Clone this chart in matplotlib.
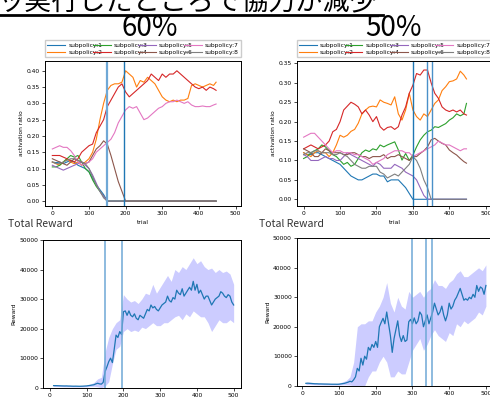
import matplotlib.pyplot as plt
import numpy as np

# ---- data ----
trials = list(range(0, 450, 10)) + [447]   # 0..440 step 10, last 447

labels = ['subpolicy:%d' % i for i in range(1, 9)]
colors = ['tab:blue', 'tab:orange', 'tab:green', 'tab:red',
          'tab:purple', 'tab:brown', 'tab:pink', 'tab:gray']

# 60% run
r60_sp1 = [0.12, 0.118, 0.12, 0.115, 0.12, 0.125, 0.12, 0.11, 0.105, 0.10, 0.09, 0.07, 0.05, 0.035, 0.02, 0.0] + [0.0] * 30
r60_sp2 = [0.12, 0.115, 0.11, 0.12, 0.13, 0.12, 0.115, 0.12, 0.11, 0.12, 0.13, 0.15, 0.19, 0.25, 0.30, 0.34,
           0.355, 0.36, 0.36, 0.365, 0.40, 0.39, 0.38, 0.35, 0.37, 0.365, 0.38, 0.37, 0.36, 0.34,
           0.32, 0.31, 0.305, 0.31, 0.305, 0.31, 0.31, 0.315, 0.355, 0.36, 0.355, 0.35, 0.355, 0.36, 0.355, 0.365]
r60_sp3 = [0.105, 0.105, 0.11, 0.12, 0.13, 0.14, 0.135, 0.14, 0.12, 0.10, 0.09, 0.065, 0.045, 0.03, 0.015, 0.0] + [0.0] * 30
r60_sp4 = [0.14, 0.14, 0.14, 0.135, 0.13, 0.125, 0.12, 0.13, 0.15, 0.16, 0.17, 0.175, 0.21, 0.23, 0.25, 0.29,
           0.31, 0.33, 0.35, 0.36, 0.335, 0.32, 0.33, 0.34, 0.35, 0.36, 0.37, 0.39, 0.38, 0.37,
           0.39, 0.38, 0.39, 0.39, 0.40, 0.39, 0.38, 0.37, 0.36, 0.35, 0.345, 0.35, 0.34, 0.35, 0.345, 0.34]
r60_sp5 = [0.11, 0.105, 0.10, 0.095, 0.10, 0.105, 0.11, 0.115, 0.12, 0.11, 0.10, 0.08, 0.055, 0.03, 0.015, 0.0] + [0.0] * 30
r60_sp6 = [0.13, 0.125, 0.12, 0.115, 0.11, 0.12, 0.13, 0.125, 0.12, 0.115, 0.12, 0.14, 0.16, 0.17, 0.185, 0.175,
           0.14, 0.10, 0.06, 0.03, 0.0] + [0.0] * 25
r60_sp7 = [0.16, 0.165, 0.17, 0.165, 0.165, 0.155, 0.14, 0.12, 0.11, 0.115, 0.12, 0.13, 0.15, 0.16, 0.17, 0.18,
           0.19, 0.21, 0.24, 0.26, 0.28, 0.29, 0.285, 0.29, 0.27, 0.25, 0.255, 0.265, 0.275, 0.285,
           0.29, 0.30, 0.305, 0.305, 0.31, 0.305, 0.30, 0.305, 0.295, 0.29, 0.29, 0.292, 0.29, 0.29, 0.295, 0.298]
r60_sp8 = [0.12, 0.115, 0.115, 0.12, 0.125, 0.13, 0.13, 0.125, 0.12, 0.115, 0.10, 0.075, 0.05, 0.03, 0.01, 0.0] + [0.0] * 30

# 50% run
r50_sp1 = [0.12, 0.115, 0.115, 0.12, 0.12, 0.115, 0.11, 0.105, 0.10, 0.095, 0.09, 0.08, 0.07, 0.06, 0.055, 0.05,
           0.05, 0.055, 0.06, 0.065, 0.065, 0.06, 0.06, 0.045, 0.05, 0.05, 0.05, 0.04, 0.03, 0.015, 0.0] + [0.0] * 15
r50_sp2 = [0.12, 0.115, 0.11, 0.12, 0.125, 0.12, 0.12, 0.11, 0.12, 0.14, 0.165, 0.16, 0.165, 0.175, 0.18, 0.196,
           0.22, 0.23, 0.238, 0.24, 0.238, 0.256, 0.25, 0.247, 0.243, 0.264, 0.22, 0.204, 0.23, 0.273,
           0.23, 0.213, 0.204, 0.22, 0.213, 0.23, 0.247, 0.256, 0.28, 0.29, 0.303, 0.305, 0.31, 0.33, 0.32, 0.31]
r50_sp3 = [0.105, 0.11, 0.12, 0.125, 0.13, 0.14, 0.135, 0.125, 0.115, 0.11, 0.10, 0.09, 0.095, 0.085, 0.09, 0.105,
           0.12, 0.127, 0.123, 0.13, 0.127, 0.14, 0.135, 0.14, 0.144, 0.148, 0.127, 0.101, 0.118, 0.10,
           0.114, 0.135, 0.153, 0.165, 0.174, 0.178, 0.187, 0.185, 0.19, 0.195, 0.204, 0.21, 0.22, 0.215, 0.22, 0.247]
r50_sp4 = [0.13, 0.135, 0.14, 0.135, 0.13, 0.135, 0.14, 0.15, 0.174, 0.18, 0.20, 0.23, 0.24, 0.25, 0.245, 0.238,
           0.22, 0.23, 0.217, 0.20, 0.213, 0.187, 0.178, 0.185, 0.187, 0.18, 0.187, 0.217, 0.238, 0.273,
           0.294, 0.324, 0.32, 0.333, 0.333, 0.30, 0.273, 0.26, 0.238, 0.23, 0.226, 0.23, 0.225, 0.23, 0.22, 0.217]
r50_sp5 = [0.115, 0.11, 0.10, 0.10, 0.10, 0.105, 0.11, 0.105, 0.105, 0.10, 0.10, 0.11, 0.12, 0.115, 0.11, 0.105,
           0.10, 0.095, 0.09, 0.085, 0.095, 0.09, 0.08, 0.08, 0.08, 0.09, 0.085, 0.08, 0.07, 0.065,
           0.06, 0.05, 0.03, 0.01, 0.0] + [0.0] * 11
r50_sp6 = [0.13, 0.125, 0.12, 0.11, 0.11, 0.12, 0.13, 0.125, 0.12, 0.12, 0.12, 0.115, 0.115, 0.12, 0.12, 0.115,
           0.11, 0.11, 0.105, 0.11, 0.11, 0.11, 0.115, 0.105, 0.11, 0.11, 0.115, 0.11, 0.105, 0.10,
           0.11, 0.11, 0.118, 0.125, 0.135, 0.153, 0.157, 0.15, 0.144, 0.14, 0.127, 0.12, 0.114, 0.105, 0.097, 0.093]
r50_sp7 = [0.16, 0.165, 0.17, 0.17, 0.16, 0.15, 0.14, 0.13, 0.12, 0.125, 0.125, 0.12, 0.12, 0.12, 0.115, 0.115,
           0.11, 0.105, 0.10, 0.09, 0.095, 0.10, 0.105, 0.115, 0.12, 0.125, 0.125, 0.125, 0.12, 0.12,
           0.11, 0.115, 0.12, 0.125, 0.13, 0.135, 0.14, 0.15, 0.145, 0.14, 0.14, 0.135, 0.13, 0.125, 0.13, 0.13]
r50_sp8 = [0.115, 0.12, 0.12, 0.125, 0.125, 0.12, 0.12, 0.12, 0.115, 0.115, 0.12, 0.115, 0.11, 0.10, 0.09, 0.085,
           0.08, 0.08, 0.085, 0.085, 0.085, 0.07, 0.065, 0.055, 0.06, 0.065, 0.06, 0.07, 0.08, 0.09,
           0.11, 0.10, 0.08, 0.05, 0.03, 0.0] + [0.0] * 10

r60_lines = [150, 197]
r50_lines = [300, 338, 352]

# reward
rew_x = list(range(10, 505, 5))
rew60 = [700, 700, 680, 650, 620, 600, 580, 600, 560, 550, 520, 500, 520, 500, 480, 500, 520, 560,
         600, 700, 800, 900, 1000, 1300, 1500, 1300, 1200, 1800, 5400, 7000, 8800, 10000, 8500, 13000,
         17800, 17000, 19000, 18000, 25700, 26000, 24500, 26000, 24500, 24000, 25000, 23500, 23000, 24500,
         24000, 23500, 25000, 26500, 26000, 28000, 27000, 27500, 26500, 26000, 27000, 28000, 28500, 29000,
         31000, 29500, 29000, 30500, 30000, 33000, 32000, 31500, 33500, 31000, 32000, 33000, 34000, 33000,
         36000, 33000, 35000, 32000, 33000, 31500, 30000, 31000, 31000, 29500, 28000, 29000, 30000, 30500,
         31000, 32500, 32000, 31000, 30500, 31500, 31000, 29000, 28000]
rew50 = [800, 850, 800, 750, 700, 650, 650, 600, 600, 580, 560, 550, 540, 520, 500, 500, 500, 480,
         500, 600, 700, 800, 1000, 1200, 1500, 1300, 2000, 3000, 5900, 5000, 9300, 7000, 10000, 9000,
         13000, 12000, 14000, 13000, 15000, 13000, 20000, 21500, 22850, 21000, 25000, 21000, 17000, 11300,
         16000, 19000, 22000, 17000, 15000, 17000, 15000, 15500, 21700, 22500, 21000, 23000, 21000, 22000,
         25000, 24000, 20000, 22000, 24000, 21000, 23000, 25000, 28000, 26000, 24000, 25000, 27000, 24000,
         22000, 24000, 28000, 26000, 27000, 29000, 30000, 31500, 33000, 31000, 29000, 29500, 29000, 30000,
         29500, 31000, 30000, 34000, 32000, 33500, 33000, 31000, 34000]

band_x = list(range(10, 510, 10))
up60 = [1000, 1000, 900, 900, 850, 800, 800, 750, 800, 900, 1200, 1800, 3000, 3500, 12000, 17000, 20000,
        22000, 23000, 31500, 30000, 29000, 29500, 28500, 30000, 32000, 31500, 35000, 32000, 34000, 36000,
        38000, 36000, 40000, 39000, 41000, 40000, 42000, 44000, 42000, 43000, 41000, 40000, 40500, 39000,
        40000, 39000, 39500, 38500, 35000]
lo60 = [400, 400, 350, 300, 300, 250, 250, 250, 250, 300, 400, 500, 300, 0, 500, 2000, 8000, 13000,
        14000, 19000, 20000, 19000, 19500, 19000, 20500, 20000, 21000, 22000, 21000, 21000, 22000, 22000,
        23000, 24000, 24500, 23000, 25000, 24000, 26000, 25000, 24000, 24000, 22000, 19000, 21000, 23000,
        22000, 22000, 23000, 22000]
up50 = [1200, 1200, 1100, 1000, 900, 900, 850, 800, 800, 900, 1300, 1800, 3000, 8000, 20000, 21000, 21000,
        22000, 22000, 25000, 27000, 30000, 35000, 28000, 25000, 30000, 27000, 26000, 32000, 30000, 31000,
        32000, 30000, 32000, 33000, 36000, 34000, 34000, 33000, 35000, 36000, 38000, 39000, 37000, 37000,
        38000, 39000, 40000, 39000, 41000]
lo50 = [400, 400, 350, 300, 300, 250, 250, 200, 200, 200, 300, 300, 200, 0, 0, 0, 0, 3000, 5000, 5000,
        8000, 10000, 8000, 3000, 3000, 5000, 4000, 4000, 8000, 12000, 14000, 16000, 12000, 14000, 17000,
        19000, 17000, 16000, 15000, 18000, 17000, 21000, 20000, 22000, 21000, 22000, 23000, 25000, 24000, 27000]

W, H = 490, 398
fig = plt.figure(figsize=(W / 100, H / 100), dpi=100)


def rect(x0, y0, x1, y1):
    return [x0 / W, (H - y1) / H, (x1 - x0) / W, (y1 - y0) / H]


def px(x, y):
    return x / W, (H - y) / H


jp = ['Noto Sans CJK JP', 'DejaVu Sans']

# header (top of the line is cut off by the page edge)
fig.text(*px(-3, 9), 'ッ実行したところで協力が減少', family=jp, fontsize=19.5, va='baseline', ha='left')
fig.add_artist(plt.Line2D([0, 383 / W], [(H - 14.5) / H] * 2, color='black', lw=2))
fig.text(*px(150, 28), '60%', family=jp, fontsize=20, ha='center', va='center')
fig.text(*px(393, 28), '50%', family=jp, fontsize=20, ha='center', va='center')
fig.text(*px(8, 224), 'Total Reward', family=jp, fontsize=7.5, ha='left', va='center', color='#333333')
fig.text(*px(259, 224), 'Total Reward', family=jp, fontsize=7.5, ha='left', va='center', color='#333333')

fs = 4.3


def ratio_panel(r, series, xlim, ylim, yticks, vlines, vcols, vlws):
    ax = fig.add_axes(r)
    for s, c, lab in zip(series, colors, labels):
        ax.plot(trials, s, color=c, lw=0.8, label=lab)
    for v, c, lw in zip(vlines, vcols, vlws):
        ax.axvline(v, color=c, lw=lw)
    ax.set_xlim(*xlim)
    ax.set_ylim(*ylim)
    ax.set_xticks([0, 100, 200, 300, 400, 500])
    ax.set_yticks(yticks)
    ax.set_yticklabels(['%.2f' % t for t in yticks])
    ax.tick_params(labelsize=fs, length=2, width=0.5, pad=1.5)
    ax.set_xlabel('trial', fontsize=fs, labelpad=3)
    ax.set_ylabel('activation ratio', fontsize=fs, labelpad=2)
    for sp in ax.spines.values():
        sp.set_linewidth(0.7)
    ax.legend(loc='lower left', bbox_to_anchor=(0, 1.025, 1, 0.1), mode='expand', ncol=4,
              fontsize=fs, handlelength=3, borderpad=0.4, labelspacing=0.3, columnspacing=0.5,
              handletextpad=0.5, borderaxespad=0, framealpha=1, edgecolor='#cccccc', fancybox=False)
    return ax


def reward_panel(r, mean, up, lo, xlim, vlines):
    ax = fig.add_axes(r)
    ax.fill_between(band_x, lo, up, color='b', alpha=0.2, lw=0)
    ax.plot(rew_x, mean, color='tab:blue', lw=0.9)
    for v in vlines:
        ax.axvline(v, color='#6fa8d6', lw=1.1)
    ax.set_xlim(*xlim)
    ax.set_ylim(0, 50000)
    ax.set_xticks([0, 100, 200, 300, 400, 500])
    ax.set_yticks(range(0, 50001, 10000))
    ax.tick_params(labelsize=fs, length=2, width=0.5, pad=1.5)
    ax.set_ylabel('Reward', fontsize=fs, labelpad=2)
    for sp in ax.spines.values():
        sp.set_linewidth(0.7)
    return ax


ratio_panel(rect(45, 61, 241, 206),
            [r60_sp1, r60_sp2, r60_sp3, r60_sp4, r60_sp5, r60_sp6, r60_sp7, r60_sp8],
            (-20, 515), (-0.015, 0.43), np.arange(0, 0.41, 0.05), r60_lines,
            ['#6fa8d6', '#1f77b4'], [1.6, 1.0])
ratio_panel(rect(296.7, 60.7, 492.7, 205.7),
            [r50_sp1, r50_sp2, r50_sp3, r50_sp4, r50_sp5, r50_sp6, r50_sp7, r50_sp8],
            (-19, 519), (-0.0165, 0.357), np.arange(0, 0.351, 0.05), r50_lines,
            ['#1f77b4', '#4a90c8', '#4a90c8'], [1.0, 1.0, 1.0])

reward_panel(rect(43.3, 240, 241, 387.7), rew60, up60, lo60, (-18, 520), r60_lines)
reward_panel(rect(296.7, 238.3, 494, 385.7), rew50, up50, lo50, (-15, 522), r50_lines)

fig.savefig('out.png', dpi=100)
